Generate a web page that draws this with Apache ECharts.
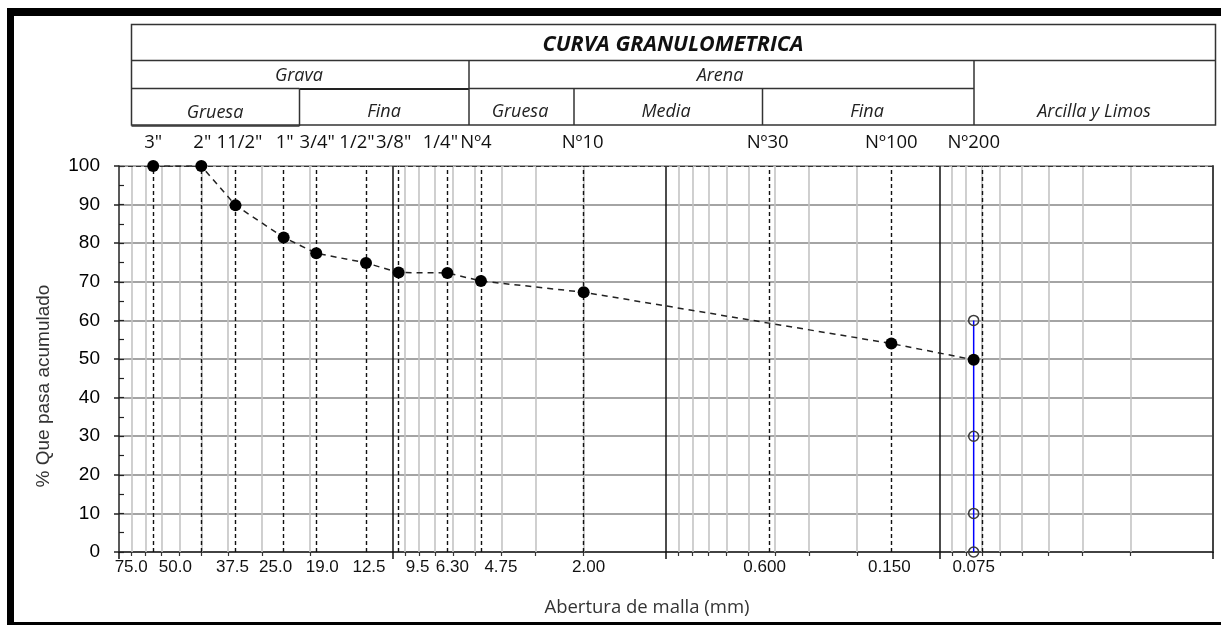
<!DOCTYPE html>
<html>
<head>
<meta charset="utf-8">
<script src="https://cdn.jsdelivr.net/npm/echarts@6/dist/echarts.min.js"></script>
<style>
html,body{margin:0;padding:0;background:#fff;}
#chart{width:1221px;height:625px;}
</style>
</head>
<body>
<div id="chart"></div>
<script>
// ---- data ----
const sieveNames = ['3"', '2"', '11/2"', '1"', '3/4"', '1/2"', '3/8"', '1/4"', 'Nº4', 'Nº10', 'Nº30', 'Nº100', 'Nº200'];
const sieveOpenings = [75, 50, 37.5, 25, 19, 12.5, 9.5, 6.3, 4.75, 2.0, 0.425, 0.15, 0.075];
const openingLabels = ['75.0', '50.0', '37.5', '25.0', '19.0', '12.5', '9.5', '6.30', '4.75', '2.00', '0.600', '0.150', '0.075'];
const curveSizes = [75, 50, 37.5, 25, 19, 12.5, 9.5, 6.3, 4.75, 2.0, 0.15, 0.075];
const curvePassing = [100, 100, 89.8, 81.5, 77.4, 74.9, 72.4, 72.3, 70.2, 67.3, 54.0, 49.8];
const finesSize = 0.075;
const finesPassing = [60, 30, 10, 0];
const decades = [100, 10, 1, 0.1, 0.01];
const minorMultipliers = [2, 3, 4, 5, 6, 7, 8, 9];

// ---- label styling (horizontal nudges in px, as in the reference text boxes) ----
const bottomLabelShift = [-22, -26, -3, -8, 6, 3, 19, 5, 20, 5, -3, -2, 0];
const topLabelShift = [0, 1, 4, 1, 1, -9, -5, -7, -5, -1, 0, 0, 0];

const minorValues = [];
[10, 1, 0.1, 0.01].forEach(d => minorMultipliers.forEach(m => minorValues.push(m * d)));

function findIdx(arr, v) {
  for (let i = 0; i < arr.length; i++) if (Math.abs(arr[i] - v) < 1e-9 * Math.max(1, arr[i])) return i;
  return -1;
}
function shiftRich(shifts) {
  const r = {};
  shifts.forEach((s, i) => {
    r['s' + i] = {padding: s >= 0 ? [0, 0, 0, 2 * s] : [0, -2 * s, 0, 0]};
  });
  return r;
}

const chart = echarts.init(document.getElementById('chart'), null, {renderer: 'canvas'});

function vLineSeries(values, lineStyle, z) {
  return {
    type: 'line', data: [], xAxisIndex: 0, yAxisIndex: 0, silent: true, z: z,
    markLine: {
      silent: true, symbol: ['none', 'none'], label: {show: false}, animation: false,
      lineStyle: lineStyle, emphasis: {disabled: true},
      data: values.map(v => ({xAxis: v}))
    }
  };
}

const numFont = 'Liberation Sans';
const hdrFont = 'Open Sans';
const logBase = {type: 'log', logBase: 10, min: 0.01, max: 100, inverse: true, gridIndex: 0};

const hdrLine = {stroke: '#333', lineWidth: 1.5};
const hdrTxt = 'italic 18px "Open Sans"';
const graphics = [
  // outer frame
  {type: 'rect', shape: {x: 7, y: 8, width: 1214, height: 8}, style: {fill: '#000'}},
  {type: 'rect', shape: {x: 7, y: 8, width: 7, height: 617}, style: {fill: '#000'}},
  {type: 'rect', shape: {x: 7, y: 622, width: 1214, height: 3}, style: {fill: '#000'}},
  // header table
  {type: 'rect', shape: {x: 131.5, y: 24.5, width: 1084, height: 100.5}, style: {fill: 'none', stroke: '#333', lineWidth: 1.5}},
  {type: 'line', shape: {x1: 131.5, y1: 60.5, x2: 1215.5, y2: 60.5}, style: hdrLine},
  {type: 'line', shape: {x1: 131.5, y1: 88.5, x2: 299.5, y2: 88.5}, style: hdrLine},
  {type: 'line', shape: {x1: 299.5, y1: 89, x2: 469, y2: 89}, style: {stroke: '#222', lineWidth: 2.2}},
  {type: 'line', shape: {x1: 469, y1: 88.5, x2: 974, y2: 88.5}, style: hdrLine},
  {type: 'line', shape: {x1: 469, y1: 60.5, x2: 469, y2: 125}, style: hdrLine},
  {type: 'line', shape: {x1: 974, y1: 60.5, x2: 974, y2: 125}, style: hdrLine},
  {type: 'line', shape: {x1: 299.5, y1: 88.5, x2: 299.5, y2: 126}, style: hdrLine},
  {type: 'line', shape: {x1: 131.5, y1: 126, x2: 299.5, y2: 126}, style: hdrLine},
  {type: 'line', shape: {x1: 574, y1: 88.5, x2: 574, y2: 125}, style: hdrLine},
  {type: 'line', shape: {x1: 762.5, y1: 88.5, x2: 762.5, y2: 125}, style: hdrLine},
  // header texts
  {type: 'text', x: 673, y: 45, style: {text: 'CURVA GRANULOMETRICA', font: 'italic bold 21.5px "Open Sans"', fill: '#111', align: 'center', verticalAlign: 'middle'}},
  {type: 'text', x: 299, y: 76, style: {text: 'Grava', font: hdrTxt, fill: '#222', align: 'center', verticalAlign: 'middle'}},
  {type: 'text', x: 720, y: 76, style: {text: 'Arena', font: hdrTxt, fill: '#222', align: 'center', verticalAlign: 'middle'}},
  {type: 'text', x: 215, y: 113, style: {text: 'Gruesa', font: hdrTxt, fill: '#222', align: 'center', verticalAlign: 'middle'}},
  {type: 'text', x: 384, y: 112, style: {text: 'Fina', font: hdrTxt, fill: '#222', align: 'center', verticalAlign: 'middle'}},
  {type: 'text', x: 520, y: 112, style: {text: 'Gruesa', font: hdrTxt, fill: '#222', align: 'center', verticalAlign: 'middle'}},
  {type: 'text', x: 666, y: 112, style: {text: 'Media', font: hdrTxt, fill: '#222', align: 'center', verticalAlign: 'middle'}},
  {type: 'text', x: 867, y: 112, style: {text: 'Fina', font: hdrTxt, fill: '#222', align: 'center', verticalAlign: 'middle'}},
  {type: 'text', x: 1094, y: 112, style: {text: 'Arcilla y Limos', font: hdrTxt, fill: '#222', align: 'center', verticalAlign: 'middle'}},
  // axis titles
  {type: 'text', x: 44, y: 386, rotation: Math.PI / 2, style: {text: '% Que pasa acumulado', font: '19px "Liberation Sans"', fill: '#333', align: 'center', verticalAlign: 'middle'}},
  {type: 'text', x: 647, y: 608, style: {text: 'Abertura de malla (mm)', font: '18.5px "Open Sans"', fill: '#333', align: 'center', verticalAlign: 'middle'}}
];

const option = {
  animation: false,
  backgroundColor: '#fff',
  grid: {left: 119, right: 8, top: 166, bottom: 73, containLabel: false},
  graphic: graphics,
  xAxis: [
    Object.assign({}, logBase, {
      position: 'bottom',
      axisLine: {show: true, onZero: false, lineStyle: {color: '#222', width: 1.5}},
      axisTick: {show: true, length: 7, lineStyle: {color: '#111', width: 1.5}},
      axisLabel: {
        show: true, customValues: sieveOpenings, margin: 7,
        fontFamily: numFont, fontSize: 17, color: '#111',
        rich: shiftRich(bottomLabelShift),
        formatter: function (v) { const i = findIdx(sieveOpenings, v); return i >= 0 ? '{s' + i + '|' + openingLabels[i] + '}' : ''; }
      },
      splitLine: {show: false}
    }),
    Object.assign({}, logBase, {
      position: 'top',
      axisLine: {show: false},
      axisTick: {show: false},
      axisLabel: {
        show: true, customValues: sieveOpenings, margin: 14,
        fontFamily: hdrFont, fontSize: 18.5, color: '#111',
        rich: shiftRich(topLabelShift),
        formatter: function (v) { const i = findIdx(sieveOpenings, v); return i >= 0 ? '{s' + i + '|' + sieveNames[i] + '}' : ''; }
      },
      splitLine: {show: false}
    }),
    Object.assign({}, logBase, {
      position: 'bottom',
      axisLine: {show: false},
      axisTick: {show: true, customValues: minorValues, length: 4, lineStyle: {color: '#333', width: 1.2}},
      axisLabel: {show: false},
      splitLine: {show: false}
    })
  ],
  yAxis: [
    {
      type: 'value', min: 0, max: 100, interval: 10, position: 'left', gridIndex: 0,
      axisLine: {show: true, lineStyle: {color: '#222', width: 1.5}},
      axisTick: {show: true, length: 5, lineStyle: {color: '#222', width: 1.5}},
      axisLabel: {fontFamily: numFont, fontSize: 19, color: '#000', margin: 19},
      splitLine: {show: true, lineStyle: {color: '#a4a4a4', width: 1.8}}
    },
    {
      type: 'value', min: 0, max: 100, interval: 5, position: 'left', gridIndex: 0,
      axisLine: {show: false},
      axisTick: {show: true, inside: true, length: 5, lineStyle: {color: '#222', width: 1.2}},
      axisLabel: {show: false},
      splitLine: {show: false}
    },
    {
      type: 'value', min: 0, max: 100, interval: 10, position: 'right', gridIndex: 0,
      axisLine: {show: true, lineStyle: {color: '#444', width: 2}},
      axisTick: {show: false},
      axisLabel: {show: false},
      splitLine: {show: false}
    }
  ],
  series: [
    vLineSeries(minorValues, {color: '#c4c4c4', width: 1.6, type: 'solid'}, 1),
    vLineSeries(decades.slice(1, 4), {color: '#111', width: 1.5, type: 'solid'}, 2),
    {
      type: 'line', data: [], silent: true, z: 2,
      markLine: {silent: true, symbol: ['none', 'none'], label: {show: false}, animation: false,
        lineStyle: {color: '#333', width: 1.2, type: [5, 3]}, data: [{yAxis: 100}]}
    },
    vLineSeries(sieveOpenings, {color: '#111', width: 1.4, type: [4, 3]}, 3),
    {
      name: 'finos', type: 'line', z: 4, silent: true,
      data: finesPassing.map(v => [finesSize, v]),
      symbol: 'circle', symbolSize: 10,
      itemStyle: {color: 'rgba(255,255,255,0)', borderColor: '#3a3a3a', borderWidth: 1.5},
      lineStyle: {color: '#0000ff', width: 1.5, type: 'solid'}
    },
    {
      name: 'curva', type: 'line', z: 5, silent: true,
      data: curveSizes.map((s, i) => [s, curvePassing[i]]),
      symbol: 'circle', symbolSize: 12,
      itemStyle: {color: '#000'},
      lineStyle: {color: '#222', width: 1.5, type: [6, 5]}
    }
  ]
};
chart.setOption(option);
</script>
</body>
</html>
